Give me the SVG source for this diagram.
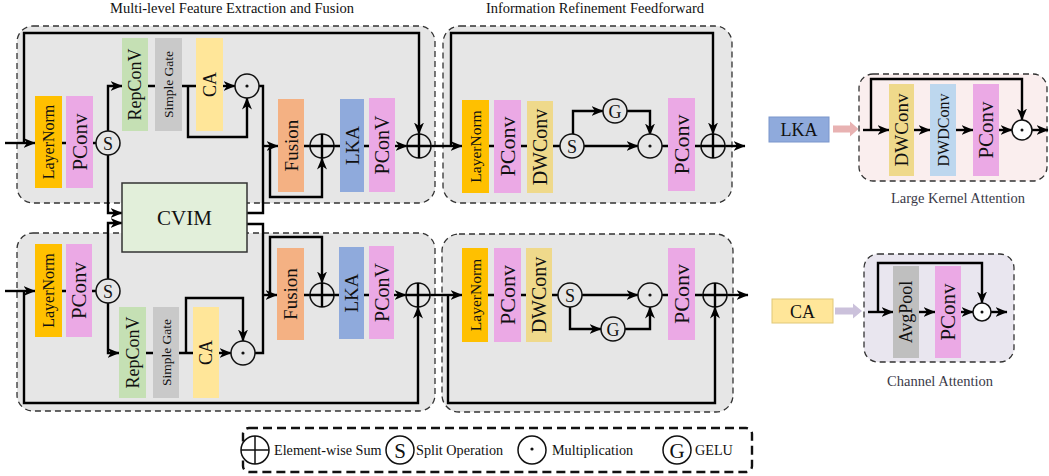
<svg xmlns="http://www.w3.org/2000/svg" width="1049" height="476" viewBox="0 0 1049 476">
<defs>
<marker id="ah" viewBox="0 0 12 10" refX="11.5" refY="5" markerWidth="12" markerHeight="10" markerUnits="userSpaceOnUse" orient="auto">
<path d="M0,0 L12,5 L0,10 L3.5,5 z" fill="#000"/>
</marker>
<style>
text{font-family:"Liberation Serif","Times New Roman",serif;fill:#111}
.panel{fill:#E6E6E6;stroke:#333;stroke-width:1.3;stroke-dasharray:6 4}
.ln{fill:none;stroke:#000;stroke-width:2.4}
.ar{fill:none;stroke:#000;stroke-width:2.4;marker-end:url(#ah)}
.op{fill:#E6E6E6;stroke:#111;stroke-width:1.5}
.opw{fill:#fff;stroke:#111;stroke-width:1.5}
.dot{fill:#111}
.vt{text-anchor:middle;dominant-baseline:central}
.lnorm{fill:#FFC000}.pconv{fill:#EBA9E5}.rep{fill:#C5E0B4}.sg{fill:#C9C9C9}.ca{fill:#FFE699}
.fus{fill:#F4B183}.lka{fill:#8FAADC}.dw{fill:#EFD98B}.dwd{fill:#BDD7EE}.avg{fill:#BFBFBF}
.title{font-size:14.5px;text-anchor:middle}
.cap{font-size:14.5px;text-anchor:middle;fill:#3a3a48}
.lg{font-size:14.2px}
</style>
</defs>

<text class="title" x="232" y="13">Multi-level Feature Extraction and Fusion</text>
<text class="title" x="595" y="13">Information Refinement Feedforward</text>

<!-- panels -->
<rect class="panel" x="17" y="26" width="418" height="177" rx="16"/>
<rect class="panel" x="17" y="233" width="418" height="178" rx="16"/>
<rect class="panel" x="443" y="26" width="289" height="177" rx="17"/>
<rect class="panel" x="442" y="234" width="291" height="178" rx="17"/>
<rect x="859" y="74" width="188" height="107" rx="14" fill="#FAEEEE" stroke="#333" stroke-width="1.3" stroke-dasharray="6 4"/>
<rect x="864" y="254" width="150" height="108" rx="14" fill="#E9E6EF" stroke="#333" stroke-width="1.3" stroke-dasharray="6 4"/>

<!-- connectors -->
<g id="connectors">
<!-- top left -->
<path class="ar" d="M5,143 H35"/>
<path class="ar" d="M24,143 V33 H419 V134"/>
<path class="ln" d="M62,143 H96"/>
<path class="ar" d="M108,131 V86 H122"/>
<path class="ln" d="M148,86 H155 M182,86 H196"/>
<path class="ar" d="M223,86 H235"/>
<path class="ar" d="M188,86 V137 H247 V98"/>
<path class="ln" d="M259,86 H263 V213 H247"/>
<path class="ar" d="M263,146 H278"/>
<path class="ar" d="M270,146 V197 H322 V158"/>
<path class="ln" d="M304,146 H340 M364,146 H369"/>
<path class="ar" d="M395,146 H407"/>
<path class="ar" d="M108,155 V213 H122"/>
<path class="ar" d="M431,146 H462"/>
<!-- bottom left -->
<path class="ar" d="M5,291 H35"/>
<path class="ar" d="M24,291 V403 H418 V307"/>
<path class="ln" d="M62,291 H96"/>
<path class="ar" d="M108,279 V223 H122"/>
<path class="ar" d="M108,303 V353 H119"/>
<path class="ln" d="M146,353 H153 M179,353 H193"/>
<path class="ar" d="M219,353 H231"/>
<path class="ar" d="M186,353 V298 H243 V341"/>
<path class="ln" d="M255,353 H263 V224 H247"/>
<path class="ar" d="M263,295 H277"/>
<path class="ar" d="M270,295 V237 H322 V283"/>
<path class="ln" d="M304,295 H339 M364,295 H369"/>
<path class="ar" d="M394,295 H406"/>
<path class="ar" d="M430,295 H462"/>
<!-- middle top -->
<path class="ar" d="M451,146 V33 H713 V134"/>
<path class="ln" d="M489,146 H560"/>
<path class="ar" d="M573,134 V111 H603"/>
<path class="ar" d="M627,111 H650 V135"/>
<path class="ar" d="M584,146 H638"/>
<path class="ln" d="M662,146 H701"/>
<path class="ar" d="M725,146 H745"/>
<!-- middle bottom -->
<path class="ar" d="M448,295 V403 H715 V307"/>
<path class="ln" d="M488,295 H558"/>
<path class="ar" d="M582,295 H638"/>
<path class="ar" d="M570,307 V329 H601"/>
<path class="ar" d="M625,329 H650 V307"/>
<path class="ln" d="M662,295 H703"/>
<path class="ar" d="M727,295 H748"/>
<!-- LKA detail -->
<path class="ar" d="M863,130 H889"/>
<path class="ar" d="M871,130 V79 H1022 V120"/>
<path class="ar" d="M914,130 H930"/>
<path class="ar" d="M956,130 H973"/>
<path class="ar" d="M999,130 H1012"/>
<path class="ar" d="M1032,130 H1048"/>
<!-- CA detail -->
<path class="ar" d="M868,312 H893"/>
<path class="ar" d="M878,312 V263 H982 V303"/>
<path class="ar" d="M919,312 H935"/>
<path class="ar" d="M961,312 H973"/>
<path class="ar" d="M991,312 H1007"/>
<!-- block arrows -->
<path d="M833,125.5 H850 V121.5 L858.5,129 L850,136.5 V132.5 H833 z" fill="#E8B2B2"/>
<path d="M835,307.5 H853 V303.5 L862,311 L853,318.5 V314.5 H835 z" fill="#CBC1DB"/>
</g>

<!-- top-left nodes -->
<g id="tl-layernorm"><rect class="lnorm" x="35" y="96" width="27" height="92"/><text class="vt" transform="translate(48.5,142) rotate(-90)" font-size="16">LayerNorm</text></g>
<g id="tl-pconv"><rect class="pconv" x="66" y="96" width="27" height="92"/><text class="vt" transform="translate(79.5,142) rotate(-90)" font-size="21">PConv</text></g>
<g id="tl-split"><circle class="op" cx="108" cy="143" r="12"/><text x="108" y="149.5" font-size="18" text-anchor="middle">S</text></g>
<g id="tl-repconv"><rect class="rep" x="122" y="38" width="26" height="93"/><text class="vt" transform="translate(135,84.5) rotate(-90)" font-size="18">RepConV</text></g>
<g id="tl-simplegate"><rect class="sg" x="155" y="38" width="27" height="93"/><text class="vt" transform="translate(168.5,84.5) rotate(-90)" font-size="13.5">Simple Gate</text></g>
<g id="tl-ca"><rect class="ca" x="196" y="38" width="27" height="93"/><text class="vt" transform="translate(209.5,84.5) rotate(-90)" font-size="18">CA</text></g>
<g id="tl-mul"><circle class="op" cx="247" cy="86" r="12"/><circle class="dot" cx="247" cy="86" r="1.6"/></g>
<g id="tl-fusion"><rect class="fus" x="278" y="99" width="26" height="93"/><text class="vt" transform="translate(291,145.5) rotate(-90)" font-size="19">Fusion</text></g>
<g id="tl-sum1"><circle class="op" cx="322" cy="146" r="12"/><path class="ln" d="M310,146 H334 M322,134 V158" stroke-width="1.5"/></g>
<g id="tl-lka"><rect class="lka" x="340" y="99" width="24" height="93"/><text class="vt" transform="translate(352,145.5) rotate(-90)" font-size="19">LKA</text></g>
<g id="tl-pconv2"><rect class="pconv" x="369" y="98" width="26" height="94"/><text class="vt" transform="translate(382,145) rotate(-90)" font-size="20">PConV</text></g>
<g id="tl-sum2"><circle class="op" cx="419" cy="146" r="12"/><path class="ln" d="M407,146 H431 M419,134 V158" stroke-width="1.5"/></g>

<!-- CVIM -->
<g id="cvim"><rect x="122" y="183" width="125" height="69" fill="#E2EFDA" stroke="#333" stroke-width="1.5"/><text x="184.5" y="225" font-size="21" text-anchor="middle">CVIM</text></g>

<!-- bottom-left nodes -->
<g id="bl-layernorm"><rect class="lnorm" x="35" y="244" width="27" height="93"/><text class="vt" transform="translate(48.5,290.5) rotate(-90)" font-size="16">LayerNorm</text></g>
<g id="bl-pconv"><rect class="pconv" x="66" y="244" width="26" height="93"/><text class="vt" transform="translate(79,290.5) rotate(-90)" font-size="21">PConv</text></g>
<g id="bl-split"><circle class="op" cx="108" cy="291" r="12"/><text x="108" y="297.5" font-size="18" text-anchor="middle">S</text></g>
<g id="bl-repconv"><rect class="rep" x="119" y="307" width="27" height="91"/><text class="vt" transform="translate(132.5,352.5) rotate(-90)" font-size="18">RepConV</text></g>
<g id="bl-simplegate"><rect class="sg" x="153" y="307" width="26" height="91"/><text class="vt" transform="translate(166,352.5) rotate(-90)" font-size="13.5">Simple Gate</text></g>
<g id="bl-ca"><rect class="ca" x="193" y="307" width="26" height="91"/><text class="vt" transform="translate(206,352.5) rotate(-90)" font-size="18">CA</text></g>
<g id="bl-mul"><circle class="op" cx="243" cy="353" r="12"/><circle class="dot" cx="243" cy="353" r="1.6"/></g>
<g id="bl-fusion"><rect class="fus" x="277" y="248" width="27" height="92"/><text class="vt" transform="translate(290.5,294) rotate(-90)" font-size="19">Fusion</text></g>
<g id="bl-sum1"><circle class="op" cx="322" cy="295" r="12"/><path class="ln" d="M310,295 H334 M322,283 V307" stroke-width="1.5"/></g>
<g id="bl-lka"><rect class="lka" x="339" y="247" width="25" height="92"/><text class="vt" transform="translate(351.5,293) rotate(-90)" font-size="19">LKA</text></g>
<g id="bl-pconv2"><rect class="pconv" x="369" y="246" width="25" height="93"/><text class="vt" transform="translate(381.5,292.5) rotate(-90)" font-size="20">PConV</text></g>
<g id="bl-sum2"><circle class="op" cx="418" cy="295" r="12"/><path class="ln" d="M406,295 H430 M418,283 V307" stroke-width="1.5"/></g>

<!-- middle top nodes -->
<g id="mt-layernorm"><rect class="lnorm" x="462" y="100" width="27" height="93"/><text class="vt" transform="translate(475.5,146.5) rotate(-90)" font-size="15.5">LayerNorm</text></g>
<g id="mt-pconv"><rect class="pconv" x="494" y="100" width="27" height="93"/><text class="vt" transform="translate(507.5,146.5) rotate(-90)" font-size="22">PConv</text></g>
<g id="mt-dwconv"><rect class="dw" x="527" y="101" width="26" height="92"/><text class="vt" transform="translate(540,147) rotate(-90)" font-size="20">DWConv</text></g>
<g id="mt-split"><circle class="op" cx="572" cy="146" r="12"/><text x="572" y="152.5" font-size="18" text-anchor="middle">S</text></g>
<g id="mt-gelu"><circle class="op" cx="615" cy="111" r="12"/><text x="615" y="117.5" font-size="18" text-anchor="middle">G</text></g>
<g id="mt-mul"><circle class="op" cx="650" cy="146" r="12"/><circle class="dot" cx="650" cy="146" r="1.6"/></g>
<g id="mt-pconv2"><rect class="pconv" x="668" y="98" width="27" height="93"/><text class="vt" transform="translate(681.5,144.5) rotate(-90)" font-size="22">PConv</text></g>
<g id="mt-sum"><circle class="op" cx="713" cy="146" r="12"/><path class="ln" d="M701,146 H725 M713,134 V158" stroke-width="1.5"/></g>

<!-- middle bottom nodes -->
<g id="mb-layernorm"><rect class="lnorm" x="462" y="248" width="26" height="94"/><text class="vt" transform="translate(475,295) rotate(-90)" font-size="15.5">LayerNorm</text></g>
<g id="mb-pconv"><rect class="pconv" x="494" y="248" width="27" height="94"/><text class="vt" transform="translate(507.5,295) rotate(-90)" font-size="22">PConv</text></g>
<g id="mb-dwconv"><rect class="dw" x="526" y="248" width="26" height="94"/><text class="vt" transform="translate(539,295) rotate(-90)" font-size="20">DWConv</text></g>
<g id="mb-split"><circle class="op" cx="570" cy="295" r="12"/><text x="570" y="301.5" font-size="18" text-anchor="middle">S</text></g>
<g id="mb-gelu"><circle class="op" cx="613" cy="329" r="12"/><text x="613" y="335.5" font-size="18" text-anchor="middle">G</text></g>
<g id="mb-mul"><circle class="op" cx="650" cy="295" r="12"/><circle class="dot" cx="650" cy="295" r="1.6"/></g>
<g id="mb-pconv2"><rect class="pconv" x="668" y="248" width="27" height="92"/><text class="vt" transform="translate(681.5,294) rotate(-90)" font-size="22">PConv</text></g>
<g id="mb-sum"><circle class="op" cx="715" cy="295" r="12"/><path class="ln" d="M703,295 H727 M715,283 V307" stroke-width="1.5"/></g>

<!-- LKA detail -->
<g id="lka-label"><rect x="769" y="117" width="60" height="25" fill="#8FAADC" stroke="#7a96cc" stroke-width="1"/><text x="799" y="136" font-size="18" text-anchor="middle">LKA</text></g>
<g id="lka-dwconv"><rect class="dw" x="889" y="84" width="25" height="92"/><text class="vt" transform="translate(901.5,130) rotate(-90)" font-size="19">DWConv</text></g>
<g id="lka-dwdconv"><rect class="dwd" x="930" y="84" width="26" height="92"/><text class="vt" transform="translate(943,130) rotate(-90)" font-size="16">DWDConv</text></g>
<g id="lka-pconv"><rect class="pconv" x="973" y="84" width="26" height="92"/><text class="vt" transform="translate(986,130) rotate(-90)" font-size="21">PConv</text></g>
<g id="lka-mul"><circle class="opw" cx="1022" cy="130" r="10"/><circle class="dot" cx="1022" cy="130" r="1.5"/></g>
<text class="cap" x="958" y="203">Large Kernel Attention</text>

<!-- CA detail -->
<g id="ca-label"><rect x="772" y="299" width="61" height="24" fill="#FFE699" stroke="#e0c878" stroke-width="1"/><text x="802.5" y="317.5" font-size="18" text-anchor="middle">CA</text></g>
<g id="ca-avgpool"><rect class="avg" x="893" y="266" width="26" height="92"/><text class="vt" transform="translate(906,312) rotate(-90)" font-size="18">AvgPool</text></g>
<g id="ca-pconv"><rect class="pconv" x="935" y="266" width="26" height="92"/><text class="vt" transform="translate(948,312) rotate(-90)" font-size="21">PConv</text></g>
<g id="ca-mul"><circle class="opw" cx="982" cy="312" r="9"/><circle class="dot" cx="982" cy="312" r="1.5"/></g>
<text class="cap" x="940" y="386">Channel Attention</text>

<!-- legend -->
<g id="legend">
<rect x="243" y="428" width="509" height="44" rx="6" fill="#fff" stroke="#111" stroke-width="2.4" stroke-dasharray="9 5"/>
<circle cx="255" cy="450" r="14" fill="#fff" stroke="#111" stroke-width="1.5"/>
<path d="M241,450 H269 M255,436 V464" stroke="#111" stroke-width="1.5"/>
<text class="lg" x="274" y="455">Element-wise Sum</text>
<circle cx="400" cy="450" r="14" fill="#fff" stroke="#111" stroke-width="1.5"/>
<text x="400" y="457.5" font-size="21" text-anchor="middle">S</text>
<text class="lg" x="416" y="455">Split Operation</text>
<circle cx="532" cy="450" r="14" fill="#fff" stroke="#111" stroke-width="1.5"/>
<circle cx="532" cy="449" r="1.6" fill="#111"/>
<text class="lg" x="552" y="455">Multiplication</text>
<circle cx="677" cy="450" r="14" fill="#fff" stroke="#111" stroke-width="1.5"/>
<text x="677" y="457.5" font-size="21" text-anchor="middle">G</text>
<text class="lg" x="695" y="455">GELU</text>
</g>
</svg>
